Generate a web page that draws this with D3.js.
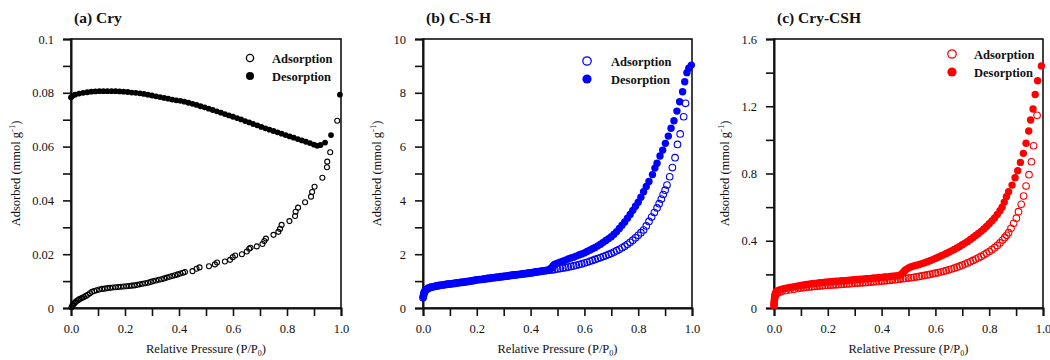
<!DOCTYPE html>
<html><head><meta charset="utf-8">
<script src="https://cdn.jsdelivr.net/npm/d3@7/dist/d3.min.js"></script>
<style>
body{margin:0;background:#fff}
svg{display:block}
text{font-family:"Liberation Serif","Times New Roman",serif;fill:#111}
</style>
</head><body>
<svg id="chart" width="1050" height="360"></svg>
<script>
// ---------------- DATA ----------------
const xTickValues = [0,0.1,0.2,0.3,0.4,0.5,0.6,0.7,0.8,0.9,1.0];
const xTickLabels = ["0.0","","0.2","","0.4","","0.6","","0.8","","1.0"];

const yTicksA = [0,0.01,0.02,0.03,0.04,0.05,0.06,0.07,0.08,0.09,0.1];
const yLabelsA = ["0","","0.02","","0.04","","0.06","","0.08","","0.1"];
const yTicksB = [0,1,2,3,4,5,6,7,8,9,10];
const yLabelsB = ["0","","2","","4","","6","","8","","10"];
const yTicksC = [0,0.2,0.4,0.6,0.8,1.0,1.2,1.4,1.6];
const yLabelsC = ["0","","0.4","","0.8","","1.2","","1.6"];

const panelTitles = ["(a) Cry","(b) C-S-H","(c) Cry-CSH"];
const seriesNames = ["Adsorption","Desorption"];

// (a) Cry  [P/P0, mmol/g]
const cryAdsorption = [
[0.002,0.0003],[0.005,0.0009],[0.008,0.0013],[0.012,0.0017],[0.016,0.0021],[0.020,0.0025],[0.025,0.0029],[0.030,0.0032],[0.036,0.0035],[0.042,0.0038],
[0.048,0.0041],[0.055,0.0045],[0.062,0.0049],[0.070,0.0055],[0.078,0.0060],[0.086,0.0063],[0.095,0.0066],[0.105,0.0069],[0.115,0.0071],[0.125,0.0072],
[0.135,0.0074],[0.145,0.0075],[0.155,0.0076],[0.165,0.0077],[0.175,0.0078],[0.185,0.0079],[0.195,0.0080],[0.205,0.0081],[0.215,0.0082],[0.225,0.0083],
[0.235,0.0084],[0.245,0.0086],[0.255,0.0088],[0.265,0.0090],[0.275,0.0092],[0.285,0.0094],[0.295,0.0097],[0.305,0.0100],[0.315,0.0102],[0.325,0.0105],
[0.335,0.0107],[0.345,0.0110],[0.355,0.0113],[0.365,0.0116],[0.375,0.0119],[0.385,0.0122],[0.395,0.0125],[0.405,0.0128],[0.415,0.0131],[0.422,0.0134],
[0.450,0.0137],[0.465,0.0146],[0.476,0.0151],[0.511,0.0155],[0.533,0.0162],[0.541,0.0169],[0.570,0.0173],[0.589,0.0179],[0.599,0.0189],[0.608,0.0195],
[0.633,0.0200],[0.651,0.0210],[0.660,0.0220],[0.665,0.0224],[0.688,0.0229],[0.709,0.0238],[0.716,0.0249],[0.722,0.0258],[0.750,0.0272],[0.768,0.0283],
[0.774,0.0294],[0.780,0.0309],[0.809,0.0323],[0.830,0.0342],[0.832,0.0358],[0.841,0.0373],[0.867,0.0393],[0.889,0.0414],[0.893,0.0431],[0.902,0.0451],
[0.931,0.0484],[0.948,0.0523],[0.949,0.0544],[0.960,0.0579],[0.986,0.0696]
];
const cryDesorption = [
[0.000,0.0783],[0.005,0.0788],[0.015,0.0793],[0.030,0.0797],[0.045,0.0800],[0.060,0.0802],[0.075,0.0804],[0.090,0.0805],[0.105,0.0806],[0.120,0.0806],
[0.135,0.0806],[0.150,0.0806],[0.165,0.0806],[0.180,0.0805],[0.195,0.0804],[0.210,0.0803],[0.225,0.0801],[0.240,0.0800],[0.255,0.0798],[0.270,0.0796],
[0.285,0.0793],[0.300,0.0790],[0.315,0.0787],[0.330,0.0784],[0.345,0.0781],[0.360,0.0778],[0.375,0.0775],[0.390,0.0772],[0.405,0.0770],[0.420,0.0767],
[0.435,0.0763],[0.450,0.0759],[0.465,0.0755],[0.480,0.0750],[0.495,0.0746],[0.510,0.0741],[0.525,0.0736],[0.540,0.0731],[0.555,0.0726],[0.570,0.0721],
[0.585,0.0716],[0.600,0.0711],[0.615,0.0706],[0.630,0.0701],[0.645,0.0695],[0.660,0.0690],[0.675,0.0684],[0.690,0.0679],[0.705,0.0673],[0.720,0.0668],
[0.735,0.0663],[0.750,0.0658],[0.765,0.0653],[0.780,0.0648],[0.795,0.0643],[0.810,0.0638],[0.825,0.0633],[0.840,0.0628],[0.855,0.0623],[0.870,0.0618],
[0.885,0.0613],[0.900,0.0607],[0.912,0.0603],[0.924,0.0606],[0.941,0.0615],[0.963,0.0643],[0.996,0.0793]
];

// (b) C-S-H
const cshAdsorption = [
[0,0.38],[0.002,0.47],[0.004,0.55],[0.007,0.62],[0.01,0.66],[0.015,0.70],[0.02,0.73],[0.03,0.765],[0.04,0.79],[0.05,0.81],
[0.06,0.83],[0.07,0.845],[0.08,0.86],[0.09,0.875],[0.10,0.89],[0.11,0.90],[0.12,0.915],[0.13,0.93],[0.14,0.945],[0.15,0.955],
[0.16,0.97],[0.17,0.985],[0.18,1.00],[0.19,1.02],[0.20,1.04],[0.21,1.05],[0.22,1.06],[0.23,1.075],[0.24,1.09],[0.25,1.10],
[0.26,1.115],[0.27,1.13],[0.28,1.14],[0.29,1.155],[0.30,1.17],[0.31,1.18],[0.32,1.195],[0.33,1.21],[0.34,1.22],[0.35,1.235],
[0.36,1.245],[0.37,1.26],[0.38,1.27],[0.39,1.285],[0.40,1.30],[0.41,1.315],[0.42,1.33],[0.43,1.345],[0.44,1.36],[0.45,1.375],
[0.46,1.39],[0.47,1.40],[0.48,1.415],[0.49,1.43],[0.50,1.45],[0.51,1.465],[0.52,1.485],[0.53,1.50],[0.54,1.52],[0.55,1.54],
[0.56,1.565],[0.57,1.59],[0.58,1.615],[0.59,1.64],[0.60,1.67],[0.61,1.70],[0.62,1.735],[0.63,1.77],[0.64,1.805],[0.65,1.84],
[0.66,1.875],[0.67,1.91],[0.68,1.95],[0.69,1.99],[0.70,2.03],[0.71,2.08],[0.72,2.13],[0.73,2.18],[0.74,2.24],[0.75,2.30],
[0.76,2.37],[0.77,2.44],[0.78,2.52],[0.79,2.61],[0.80,2.70],[0.81,2.80],[0.82,2.90],[0.83,3.05],[0.84,3.22],[0.85,3.38],
[0.86,3.55],[0.87,3.72],[0.878,3.88],[0.886,4.05],[0.893,4.22],[0.90,4.38],[0.907,4.57],[0.917,4.88],[0.927,5.22],[0.937,5.59],
[0.946,6.08],[0.956,6.47],[0.969,7.11],[0.976,7.61]
];
const cshDesorption = [
[0.001,0.42],[0.004,0.58],[0.008,0.65],[0.012,0.69],[0.02,0.745],[0.03,0.78],[0.04,0.80],[0.05,0.825],[0.06,0.845],[0.07,0.86],
[0.08,0.875],[0.09,0.89],[0.10,0.905],[0.11,0.915],[0.12,0.93],[0.13,0.945],[0.14,0.96],[0.15,0.97],[0.16,0.985],[0.17,1.00],
[0.18,1.015],[0.19,1.035],[0.20,1.055],[0.21,1.065],[0.22,1.075],[0.23,1.09],[0.24,1.105],[0.25,1.115],[0.26,1.13],[0.27,1.145],
[0.28,1.155],[0.29,1.17],[0.30,1.185],[0.31,1.195],[0.32,1.21],[0.33,1.225],[0.34,1.235],[0.35,1.25],[0.36,1.26],[0.37,1.275],
[0.38,1.285],[0.39,1.30],[0.40,1.315],[0.41,1.33],[0.42,1.345],[0.43,1.36],[0.44,1.375],[0.45,1.39],[0.46,1.405],[0.47,1.42],
[0.475,1.47],[0.48,1.52],[0.485,1.58],[0.49,1.63],[0.50,1.67],[0.51,1.70],[0.52,1.74],[0.53,1.78],[0.54,1.82],[0.55,1.86],
[0.56,1.89],[0.57,1.93],[0.58,1.97],[0.59,2.01],[0.60,2.05],[0.61,2.10],[0.62,2.15],[0.63,2.20],[0.64,2.25],[0.65,2.31],
[0.66,2.37],[0.67,2.44],[0.68,2.51],[0.69,2.58],[0.70,2.65],[0.71,2.74],[0.72,2.84],[0.73,2.96],[0.74,3.08],[0.75,3.20],
[0.76,3.34],[0.77,3.48],[0.78,3.63],[0.79,3.78],[0.80,3.93],[0.81,4.12],[0.82,4.32],[0.83,4.52],[0.84,4.70],[0.853,4.96],
[0.862,5.20],[0.870,5.38],[0.881,5.65],[0.891,5.87],[0.901,6.12],[0.912,6.39],[0.922,6.68],[0.933,6.96],[0.944,7.32],[0.954,7.67],
[0.965,8.04],[0.973,8.41],[0.981,8.75],[0.988,8.91],[0.9975,9.03]
];

// (c) Cry-CSH
const cryCshAdsorption = [
[0.000,0.015],[0.001,0.035],[0.002,0.055],[0.004,0.07],[0.007,0.08],[0.012,0.088],[0.02,0.094],[0.03,0.099],[0.045,0.104],[0.06,0.108],
[0.075,0.112],[0.09,0.116],[0.10,0.119],[0.11,0.121],[0.12,0.123],[0.13,0.125],[0.14,0.126],[0.15,0.128],[0.16,0.129],[0.17,0.131],
[0.18,0.132],[0.19,0.134],[0.20,0.135],[0.21,0.136],[0.22,0.137],[0.23,0.138],[0.24,0.139],[0.25,0.141],[0.26,0.142],[0.27,0.143],
[0.28,0.144],[0.29,0.145],[0.30,0.147],[0.31,0.148],[0.32,0.149],[0.33,0.150],[0.34,0.151],[0.35,0.153],[0.36,0.154],[0.37,0.155],
[0.38,0.157],[0.39,0.158],[0.40,0.160],[0.41,0.161],[0.42,0.163],[0.43,0.164],[0.44,0.166],[0.45,0.168],[0.46,0.170],[0.47,0.172],
[0.48,0.174],[0.49,0.176],[0.50,0.178],[0.51,0.180],[0.52,0.183],[0.53,0.185],[0.54,0.188],[0.55,0.191],[0.56,0.194],[0.57,0.197],
[0.58,0.200],[0.59,0.203],[0.60,0.207],[0.61,0.210],[0.62,0.214],[0.63,0.218],[0.64,0.222],[0.65,0.227],[0.66,0.232],[0.67,0.237],
[0.68,0.243],[0.69,0.249],[0.70,0.255],[0.71,0.261],[0.72,0.268],[0.73,0.275],[0.74,0.283],[0.75,0.291],[0.76,0.299],[0.77,0.307],
[0.78,0.316],[0.79,0.326],[0.80,0.336],[0.81,0.347],[0.82,0.359],[0.83,0.372],[0.84,0.387],[0.85,0.404],[0.858,0.420],[0.865,0.432],
[0.872,0.448],[0.881,0.474],[0.891,0.504],[0.901,0.534],[0.909,0.573],[0.919,0.617],[0.928,0.666],[0.937,0.725],[0.948,0.793],[0.957,0.870],
[0.965,0.965],[0.978,1.146]
];
const cryCshDesorption = [
[0.000,0.02],[0.001,0.04],[0.002,0.06],[0.003,0.075],[0.005,0.087],[0.008,0.095],[0.012,0.101],[0.02,0.107],[0.03,0.112],[0.04,0.116],
[0.05,0.119],[0.06,0.122],[0.07,0.125],[0.08,0.128],[0.09,0.131],[0.10,0.134],[0.11,0.137],[0.12,0.140],[0.13,0.142],[0.14,0.144],
[0.15,0.146],[0.16,0.148],[0.17,0.150],[0.18,0.151],[0.19,0.153],[0.20,0.155],[0.21,0.156],[0.22,0.158],[0.23,0.159],[0.24,0.160],
[0.25,0.162],[0.26,0.163],[0.27,0.164],[0.28,0.166],[0.29,0.167],[0.30,0.168],[0.31,0.170],[0.32,0.171],[0.33,0.172],[0.34,0.174],
[0.35,0.175],[0.36,0.176],[0.37,0.178],[0.38,0.179],[0.39,0.181],[0.40,0.182],[0.41,0.184],[0.42,0.185],[0.43,0.187],[0.44,0.189],
[0.45,0.190],[0.46,0.192],[0.47,0.197],[0.475,0.203],[0.48,0.211],[0.485,0.220],[0.49,0.228],[0.50,0.238],[0.51,0.245],[0.52,0.250],
[0.53,0.254],[0.54,0.259],[0.55,0.264],[0.56,0.269],[0.57,0.275],[0.58,0.281],[0.59,0.288],[0.60,0.295],[0.61,0.302],[0.62,0.309],
[0.63,0.316],[0.64,0.324],[0.65,0.332],[0.66,0.340],[0.67,0.348],[0.68,0.357],[0.69,0.366],[0.70,0.376],[0.71,0.386],[0.72,0.396],
[0.73,0.407],[0.74,0.419],[0.75,0.431],[0.76,0.443],[0.77,0.456],[0.78,0.470],[0.79,0.485],[0.80,0.501],[0.81,0.518],[0.82,0.536],
[0.83,0.556],[0.84,0.578],[0.848,0.600],[0.856,0.630],[0.864,0.662],[0.872,0.692],[0.885,0.731],[0.896,0.775],[0.906,0.817],[0.916,0.866],
[0.927,0.920],[0.937,0.980],[0.947,1.053],[0.954,1.118],[0.963,1.184],[0.971,1.270],[0.980,1.352],[0.994,1.440]
];

// ---------------- LAYOUT ----------------
const TOP = 39, BOTTOM = 308;
const panels = [
  {title:panelTitles[0], color:"#000000", ads:cryAdsorption, des:cryDesorption, yTicks:yTicksA, yLabels:yLabelsA,
   x0:71, x1:341, r:2.5, legX:250, legY:58, legTextX:272, legR:3.6, ylabX:16},
  {title:panelTitles[1], color:"#0000ff", ads:cshAdsorption, des:cshDesorption, yTicks:yTicksB, yLabels:yLabelsB,
   x0:423, x1:692, r:3.3, legX:587, legY:61, legTextX:611, legR:4.2, ylabX:377},
  {title:panelTitles[2], color:"#ff0000", ads:cryCshAdsorption, des:cryCshDesorption, yTicks:yTicksC, yLabels:yLabelsC,
   x0:774, x1:1043, r:3.3, legX:952, legY:54, legTextX:974, legR:4.2, ylabX:725}
];

const svg = d3.select("#chart");
svg.append("rect").attr("width",1050).attr("height",360).attr("fill","#fff");

panels.forEach(p => {
  const x = d3.scaleLinear().domain([0,1]).range([p.x0,p.x1]);
  const yMax = p.yTicks[p.yTicks.length-1];
  const y = d3.scaleLinear().domain([0,yMax]).range([BOTTOM,TOP]);
  const g = svg.append("g");

  // frame
  g.append("rect").attr("x",p.x0).attr("y",TOP).attr("width",p.x1-p.x0).attr("height",BOTTOM-TOP)
   .attr("fill","none").attr("stroke","#111").attr("stroke-width",1.6);

  // x axis
  const xa = g.append("g").attr("transform",`translate(0,${BOTTOM})`)
    .call(d3.axisBottom(x).tickValues(xTickValues).tickSize(8).tickPadding(8)
      .tickFormat((d,i)=>xTickLabels[i]));
  // y axis
  const ya = g.append("g").attr("transform",`translate(${p.x0},0)`)
    .call(d3.axisLeft(y).tickValues(p.yTicks).tickSize(8).tickPadding(9)
      .tickFormat((d,i)=>p.yLabels[i]));
  [xa,ya].forEach(a=>{
    a.select(".domain").attr("stroke","#111").attr("stroke-width",2);
    a.selectAll(".tick line").attr("stroke","#111").attr("stroke-width",1.6);
    a.selectAll(".tick text").attr("font-size",12.5).attr("fill","#222")
      .attr("font-family",'"Liberation Serif","Times New Roman",serif');
  });

  // title
  g.append("text").attr("x",p.x0+3).attr("y",23).attr("font-size",15.5).attr("font-weight","bold").text(p.title);

  // x label
  const xl = g.append("text").attr("x",(p.x0+p.x1)/2).attr("y",353).attr("text-anchor","middle").attr("font-size",12.5);
  xl.append("tspan").text("Relative Pressure (P/P");
  xl.append("tspan").attr("font-size",8).attr("dy",2.5).text("0");
  xl.append("tspan").attr("dy",-2.5).text(")");

  // y label
  const yl = g.append("text").attr("transform",`translate(${p.ylabX+4},${(TOP+BOTTOM)/2}) rotate(-90)`)
    .attr("text-anchor","middle").attr("font-size",12.5);
  yl.append("tspan").text("Adsorbed (mmol g");
  yl.append("tspan").attr("font-size",8.5).attr("dy",-5).text("-1");
  yl.append("tspan").attr("dy",5).text(")");

  // data: adsorption (open) first, desorption (filled) on top
  g.append("g").selectAll("circle").data(p.ads).join("circle")
    .attr("cx",d=>x(d[0])).attr("cy",d=>y(d[1])).attr("r",p.r)
    .attr("fill","none").attr("stroke",p.color).attr("stroke-width",1.1);
  g.append("g").selectAll("circle").data(p.des).join("circle")
    .attr("cx",d=>x(d[0])).attr("cy",d=>y(d[1])).attr("r",p.r+0.4)
    .attr("fill",p.color);

  // legend
  const lg = g.append("g");
  lg.append("circle").attr("cx",p.legX).attr("cy",p.legY).attr("r",p.legR)
    .attr("fill","none").attr("stroke",p.color).attr("stroke-width",1.3);
  lg.append("circle").attr("cx",p.legX).attr("cy",p.legY+18).attr("r",p.legR+0.4).attr("fill",p.color);
  lg.append("text").attr("x",p.legTextX).attr("y",p.legY+4.5).attr("font-size",12.5).attr("font-weight","bold").text(seriesNames[0]);
  lg.append("text").attr("x",p.legTextX).attr("y",p.legY+22.5).attr("font-size",12.5).attr("font-weight","bold").text(seriesNames[1]);
});
</script>
</body></html>
